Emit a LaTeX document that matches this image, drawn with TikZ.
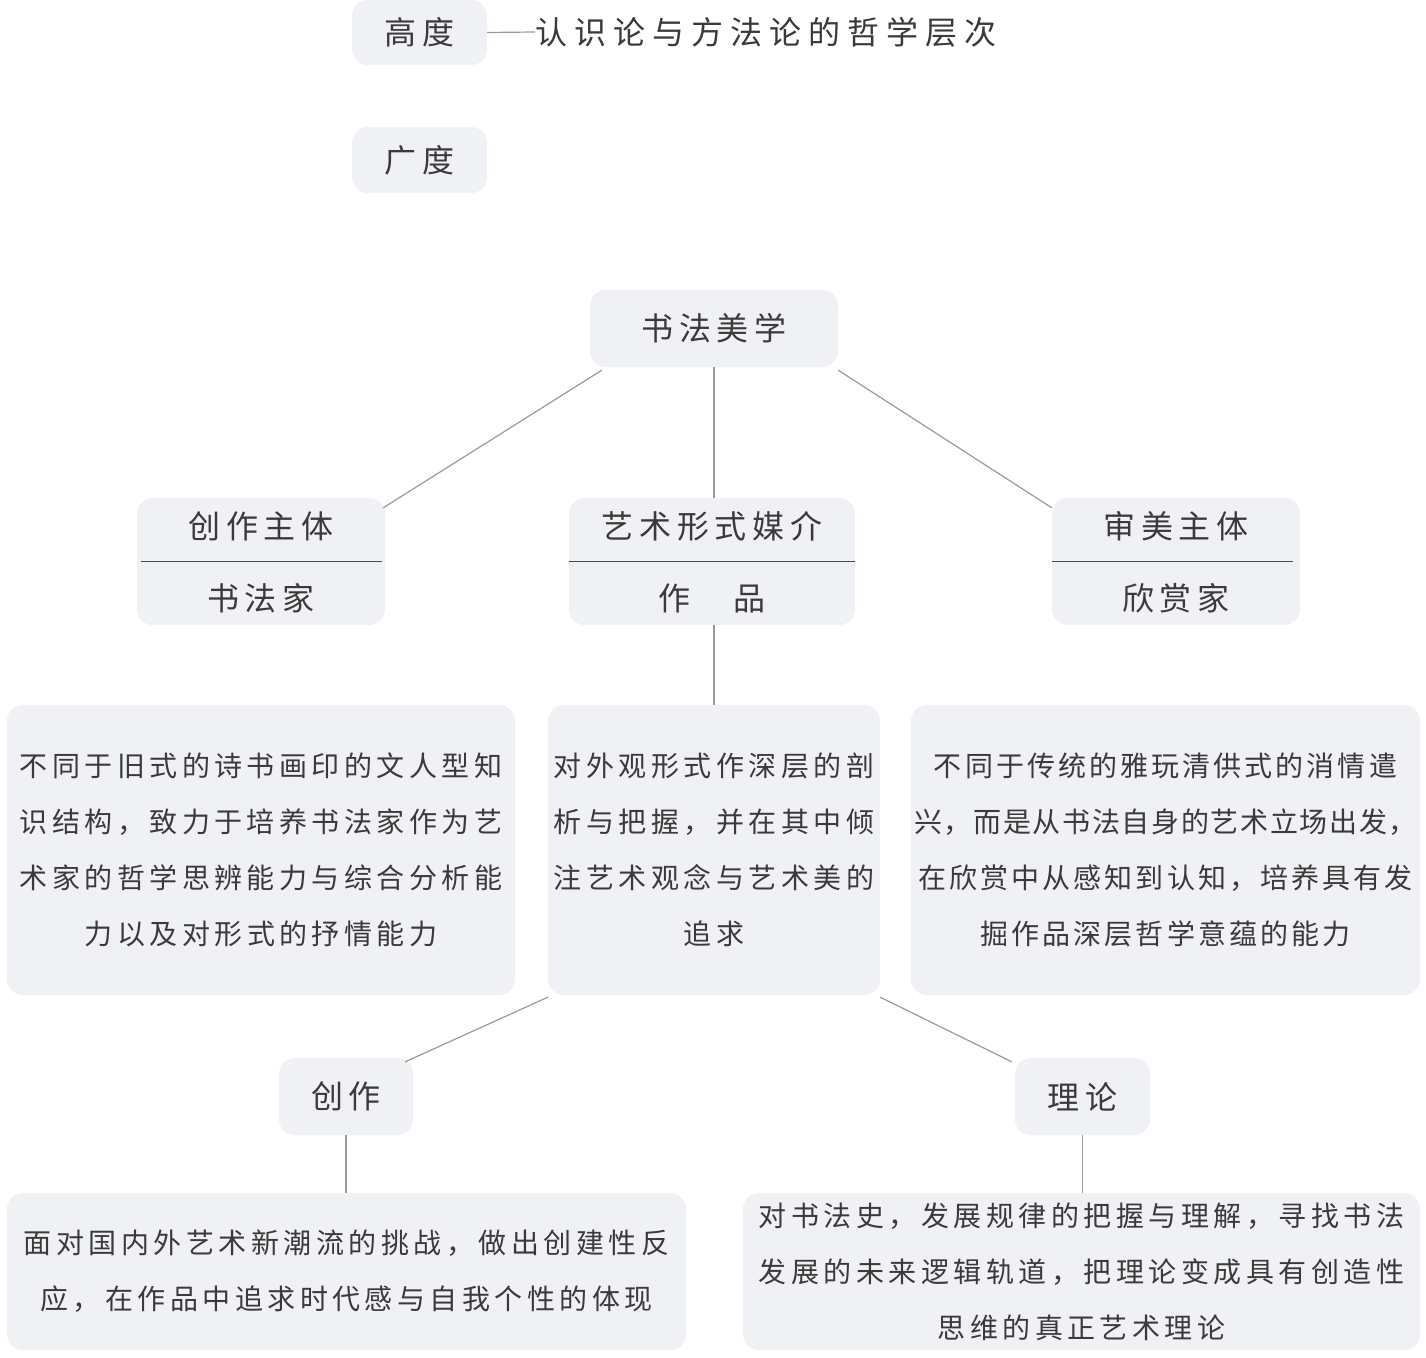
\documentclass[tikz,border=0pt]{standalone}
\usepackage{fontspec}
\newfontfamily\cjkbody{Noto Sans CJK SC}[LetterSpace=16]
\newfontfamily\cjkright{Noto Sans CJK SC}[LetterSpace=11]
\newfontfamily\cjktitle{Noto Sans CJK SC}[LetterSpace=18]
\newfontfamily\cjkhead{Noto Sans CJK SC}[LetterSpace=22]
\newfontfamily\cjktight{Noto Sans CJK SC}[LetterSpace=6]
\definecolor{boxbg}{HTML}{EFF1F4}
\definecolor{txt}{HTML}{3A3A3A}
\definecolor{linec}{HTML}{9A9A9A}
\definecolor{divc}{HTML}{4A4A4A}
\tikzset{
 box/.style={fill=boxbg, draw=none, rounded corners=16pt, inner sep=0pt, text=txt},
 ttl/.style={font=\fontsize{32}{40}\selectfont\cjktitle},
 bdy/.style={font=\fontsize{28}{56}\selectfont\cjkbody, align=center},
 conn/.style={draw=linec, line width=1.2pt},
 divline/.style={draw=divc, line width=1.2pt},
 lbl/.style={inner sep=0pt, text=txt}
}
\begin{document}
\begin{tikzpicture}[x=1pt,y=-1pt]
\useasboundingbox[fill=white] (0,0) rectangle (1426,1357);
% top
\node[box,ttl,minimum width=135pt,minimum height=65pt] (gd) at (419.5,32.5) {高度};
\node[lbl,font=\fontsize{32}{40}\selectfont\cjkhead,anchor=west] (rs) at (535,32) {认识论与方法论的哲学层次};
\draw[conn] (gd.east) -- (rs.west);
\node[box,ttl,minimum width=135pt,minimum height=66pt] (gdu) at (419.5,160) {广度};
% root
\node[box,ttl,minimum width=248pt,minimum height=77pt] (sf) at (714,328.5) {书法美学};
% level 2
\node[box,minimum width=248pt,minimum height=127pt] (cz) at (261,561.5) {};
\draw[divline] ([xshift=4pt]cz.west) -- ([xshift=-3pt]cz.east);
\node[lbl,ttl] (cz1) at (261,526) {创作主体};
\node[lbl,ttl] (cz2) at (261,598) {书法家};
\node[box,minimum width=286pt,minimum height=127pt] (ys) at (712,561.5) {};
\draw[divline] (ys.west) -- (ys.east);
\node[lbl,ttl] (ys1) at (712,526) {艺术形式媒介};
\node[lbl,ttl] (ys2) at (712,598) {作　品};
\node[box,minimum width=248pt,minimum height=127pt] (sm) at (1176,561.5) {};
\draw[divline] (sm.west) -- ([xshift=-7pt]sm.east);
\node[lbl,ttl] (sm1) at (1176,526) {审美主体};
\node[lbl,ttl] (sm2) at (1176,598) {欣赏家};
% level 3
\node[box,bdy,minimum width=508pt,minimum height=290pt] (lb) at (261,850) {不同于旧式的诗书画印的文人型知\\识结构，致力于培养书法家作为艺\\术家的哲学思辨能力与综合分析能\\力以及对形式的抒情能力};
\node[box,bdy,minimum width=332pt,minimum height=290pt] (mb) at (714,850) {对外观形式作深层的剖\\析与把握，并在其中倾\\注艺术观念与艺术美的\\追求};
\node[box,bdy,font=\fontsize{28}{56}\selectfont\cjkright,minimum width=509pt,minimum height=290pt] (rb) at (1165.5,850) {不同于传统的雅玩清供式的消情遣\\{\cjktight 兴，而是从书法自身的艺术立场出发，}\\在欣赏中从感知到认知，培养具有发\\掘作品深层哲学意蕴的能力};
% level 4
\node[box,ttl,minimum width=134pt,minimum height=77pt] (czs) at (346,1096.5) {创作};
\node[box,ttl,minimum width=135pt,minimum height=77pt] (lls) at (1082.5,1096.5) {理论};
% level 5
\node[box,bdy,minimum width=679pt,minimum height=157pt] (blb) at (346.5,1271.5) {面对国内外艺术新潮流的挑战，做出创建性反\\应，在作品中追求时代感与自我个性的体现};
\node[box,bdy,minimum width=677pt,minimum height=157pt] (brb) at (1081.5,1271.5) {对书法史，发展规律的把握与理解，寻找书法\\发展的未来逻辑轨道，把理论变成具有创造性\\思维的真正艺术理论};
% connectors
\draw[conn] ([xshift=12pt,yshift=-3pt]sf.south west) -- ([xshift=-2pt,yshift=-10pt]cz.north east);
\draw[conn] (sf.south) -- (sf.south |- ys.north);
\draw[conn] ([yshift=-3pt]sf.south east) -- ([yshift=-10pt]sm.north west);
\draw[conn] (mb.north |- ys.south) -- (mb.north);
\draw[conn] ([yshift=-2pt]mb.south west) -- ([xshift=-8pt,yshift=-4pt]czs.north east);
\draw[conn] ([yshift=-2pt]mb.south east) -- ([xshift=-3pt,yshift=-4pt]lls.north west);
\draw[conn] (czs.south) -- (czs.south |- blb.north);
\draw[conn] (lls.south) -- (lls.south |- brb.north);
\end{tikzpicture}
\end{document}
